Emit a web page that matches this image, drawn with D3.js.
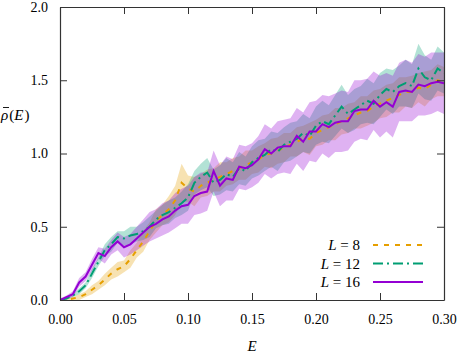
<!DOCTYPE html>
<html>
<head>
<meta charset="utf-8">
<script src="https://cdn.jsdelivr.net/npm/d3@7"></script>
<style>
  body { margin: 0; background: #fff; }
  text { font-family: "Liberation Serif", "DejaVu Serif", "Times New Roman", serif; }
</style>
</head>
<body>
<div id="chart"></div>
<script>
var svgWidth = 457;
var svgHeight = 353;

var margin = { top: 7, right: 13, bottom: 53, left: 60 };
var width = svgWidth - margin.left - margin.right;
var height = svgHeight - margin.top - margin.bottom;

// energies, step 0.005 from 0 to 0.3
var energies = d3.range(61).map(i => +(i * 0.005).toFixed(3));

var xTicks = [0, 0.05, 0.10, 0.15, 0.20, 0.25, 0.30];
var yTicks = [0, 0.5, 1.0, 1.5, 2.0];

// L = 8
var meanL8 = [0.00, 0.00, 0.01, 0.02, 0.04, 0.07, 0.10, 0.14, 0.18, 0.21,
  0.23, 0.28, 0.34, 0.40, 0.47, 0.54, 0.58, 0.62, 0.68, 0.80,
  0.76, 0.74, 0.78, 0.80, 0.82, 0.84, 0.86, 0.88, 0.90, 0.92,
  0.94, 0.96, 0.99, 1.00, 1.02, 1.04, 1.06, 1.08, 1.10, 1.10,
  1.14, 1.16, 1.18, 1.20, 1.22, 1.24, 1.26, 1.28, 1.29, 1.32,
  1.34, 1.36, 1.38, 1.40, 1.42, 1.42, 1.45, 1.44, 1.47, 1.50, 1.49];
var sdL8 = [0.00, 0.01, 0.01, 0.02, 0.02, 0.03, 0.03, 0.04, 0.04, 0.05,
  0.04, 0.06, 0.05, 0.07, 0.06, 0.08, 0.07, 0.09, 0.10, 0.13,
  0.09, 0.10, 0.08, 0.09, 0.08, 0.10, 0.08, 0.09, 0.08, 0.10,
  0.08, 0.09, 0.08, 0.10, 0.09, 0.10, 0.08, 0.10, 0.09, 0.11,
  0.09, 0.10, 0.09, 0.11, 0.09, 0.10, 0.09, 0.11, 0.10, 0.11,
  0.10, 0.11, 0.10, 0.12, 0.10, 0.11, 0.10, 0.12, 0.10, 0.11, 0.10];

// L = 12
var meanL12 = [0.00, 0.01, 0.03, 0.06, 0.10, 0.18, 0.26, 0.34, 0.38, 0.43,
  0.42, 0.44, 0.45, 0.47, 0.50, 0.55, 0.58, 0.60, 0.63, 0.66,
  0.70, 0.80, 0.84, 0.87, 0.80, 0.82, 0.86, 0.84, 0.90, 0.88,
  0.94, 0.97, 0.99, 1.03, 1.01, 1.06, 1.08, 1.10, 1.14, 1.12,
  1.19, 1.22, 1.20, 1.26, 1.32, 1.27, 1.30, 1.33, 1.36, 1.34,
  1.40, 1.44, 1.42, 1.46, 1.48, 1.46, 1.58, 1.52, 1.50, 1.58, 1.55];
var sdL12 = [0.00, 0.01, 0.01, 0.02, 0.02, 0.03, 0.03, 0.04, 0.05, 0.04,
  0.05, 0.06, 0.05, 0.06, 0.07, 0.06, 0.07, 0.08, 0.07, 0.08,
  0.09, 0.08, 0.09, 0.10, 0.09, 0.10, 0.11, 0.10, 0.11, 0.10,
  0.11, 0.12, 0.11, 0.12, 0.13, 0.12, 0.13, 0.12, 0.13, 0.12,
  0.13, 0.14, 0.13, 0.14, 0.15, 0.13, 0.14, 0.13, 0.15, 0.14,
  0.15, 0.14, 0.15, 0.14, 0.16, 0.15, 0.17, 0.15, 0.14, 0.15, 0.14];

// L = 16
var meanL16 = [0.00, 0.02, 0.04, 0.12, 0.16, 0.24, 0.32, 0.30, 0.36, 0.40,
  0.36, 0.38, 0.42, 0.46, 0.50, 0.52, 0.55, 0.57, 0.61, 0.64,
  0.65, 0.71, 0.73, 0.74, 0.88, 0.78, 0.83, 0.82, 0.91, 0.90,
  0.92, 0.96, 1.03, 1.00, 1.04, 1.05, 1.05, 1.12, 1.08, 1.15,
  1.15, 1.20, 1.18, 1.21, 1.22, 1.22, 1.29, 1.30, 1.30, 1.36,
  1.32, 1.35, 1.32, 1.42, 1.43, 1.42, 1.47, 1.46, 1.48, 1.49, 1.48];
var sdL16 = [0.01, 0.01, 0.02, 0.03, 0.03, 0.04, 0.04, 0.05, 0.05, 0.06,
  0.07, 0.07, 0.08, 0.09, 0.10, 0.10, 0.11, 0.11, 0.12, 0.12,
  0.13, 0.13, 0.14, 0.13, 0.14, 0.14, 0.15, 0.14, 0.15, 0.15,
  0.15, 0.16, 0.17, 0.17, 0.18, 0.18, 0.19, 0.19, 0.20, 0.20,
  0.21, 0.20, 0.21, 0.20, 0.21, 0.20, 0.21, 0.20, 0.21, 0.20,
  0.21, 0.20, 0.21, 0.20, 0.21, 0.20, 0.21, 0.20, 0.21, 0.20, 0.21];

var seriesLabels = ["8", "12", "16"];
var seriesColors = ["#e69f00", "#009e73", "#9400d3"];
var seriesDash = ["5,6", "10,4,2,4", null];

var series = [
  { L: seriesLabels[0], mean: meanL8, sd: sdL8, color: seriesColors[0], dash: seriesDash[0] },
  { L: seriesLabels[1], mean: meanL12, sd: sdL12, color: seriesColors[1], dash: seriesDash[1] },
  { L: seriesLabels[2], mean: meanL16, sd: sdL16, color: seriesColors[2], dash: seriesDash[2] }
];

var svg = d3.select("#chart")
  .append("svg")
  .attr("width", svgWidth)
  .attr("height", svgHeight);

var chartGroup = svg.append("g")
  .attr("transform", `translate(${margin.left}, ${margin.top})`);

var xScale = d3.scaleLinear().domain([0, 0.3]).range([0, width]);
var yScale = d3.scaleLinear().domain([0, 2]).range([height, 0]);

chartGroup.append("clipPath")
  .attr("id", "clip")
  .append("rect")
  .attr("width", width)
  .attr("height", height);

var plotArea = chartGroup.append("g").attr("clip-path", "url(#clip)");

// shaded bands
var area = d3.area()
  .x((d, i) => xScale(energies[i]))
  .y0(d => yScale(d[0] - d[1]))
  .y1(d => yScale(d[0] + d[1]));

series.forEach(function(s) {
  plotArea.append("path")
    .datum(s.mean.map((m, i) => [m, s.sd[i]]))
    .attr("d", area)
    .attr("fill", s.color)
    .attr("fill-opacity", 0.3);
});

// mean lines
var line = d3.line()
  .x((d, i) => xScale(energies[i]))
  .y(d => yScale(d));

series.forEach(function(s) {
  plotArea.append("path")
    .datum(s.mean)
    .attr("d", line)
    .attr("fill", "none")
    .attr("stroke", s.color)
    .attr("stroke-width", 2)
    .attr("stroke-dasharray", s.dash);
});

// axes, ticks pointing inward on all four sides
var axisColor = "#333";
function styleAxis(g) {
  g.attr("font-family", null);
  g.select(".domain").attr("stroke", axisColor).attr("stroke-width", 1.2);
  g.selectAll(".tick line").attr("stroke", axisColor);
  g.selectAll(".tick text")
    .attr("fill", "#000")
    .style("font-size", "14px");
}

var fmt2 = d3.format(".2f");
var fmt1 = d3.format(".1f");

chartGroup.append("g")
  .attr("transform", `translate(0, ${height})`)
  .call(d3.axisBottom(xScale).tickValues(xTicks).tickFormat(fmt2).tickSizeInner(-7).tickSizeOuter(0).tickPadding(14))
  .call(styleAxis);

chartGroup.append("g")
  .call(d3.axisTop(xScale).tickValues(xTicks).tickFormat("").tickSizeInner(-7).tickSizeOuter(0))
  .call(styleAxis);

chartGroup.append("g")
  .call(d3.axisLeft(yScale).tickValues(yTicks).tickFormat(fmt1).tickSizeInner(-7).tickSizeOuter(0).tickPadding(12))
  .call(styleAxis);

chartGroup.append("g")
  .attr("transform", `translate(${width}, 0)`)
  .call(d3.axisRight(yScale).tickValues(yTicks).tickFormat("").tickSizeInner(-7).tickSizeOuter(0))
  .call(styleAxis);

// axis titles
svg.append("text")
  .attr("x", margin.left + width / 2)
  .attr("y", 351)
  .attr("text-anchor", "middle")
  .style("font-size", "15px")
  .style("font-style", "italic")
  .text("E");

var yTitle = svg.append("text")
  .attr("x", 1)
  .attr("y", 120)
  .style("font-size", "15px");
yTitle.append("tspan").style("font-style", "italic").text("ρ");
yTitle.append("tspan").attr("dx", 1).text("(");
yTitle.append("tspan").style("font-style", "italic").text("E");
yTitle.append("tspan").attr("dx", 1).text(")");

// bar over rho
svg.append("line")
  .attr("x1", 3)
  .attr("x2", 9)
  .attr("y1", 107.5)
  .attr("y2", 107.5)
  .attr("stroke", "#000")
  .attr("stroke-width", 0.9);

// legend
var legend = svg.append("g");
series.forEach(function(s, i) {
  var y = 245 + i * 18.5;
  var t = legend.append("text")
    .attr("x", 360)
    .attr("y", y + 5)
    .attr("text-anchor", "end")
    .style("font-size", "15px");
  t.append("tspan").style("font-style", "italic").text("L");
  t.append("tspan").text(" = " + s.L);

  legend.append("line")
    .attr("x1", 373)
    .attr("x2", 423)
    .attr("y1", y)
    .attr("y2", y)
    .attr("stroke", s.color)
    .attr("stroke-width", 2)
    .attr("stroke-dasharray", s.dash);
});
</script>
</body>
</html>
